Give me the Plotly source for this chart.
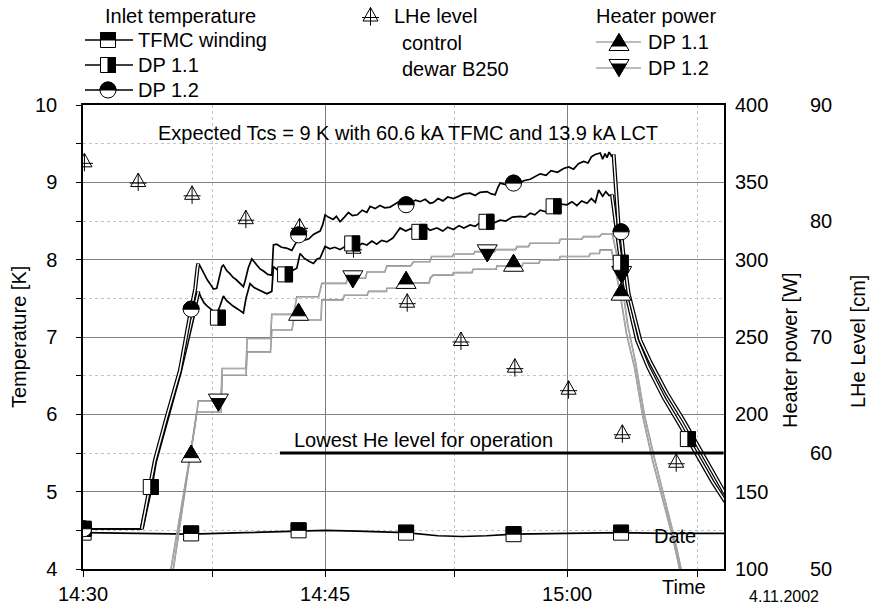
import math
import plotly.graph_objects as go

# ---------------- data (time = minutes after 14:30) ----------------
t_dp12 = [0, 3.64, 4.0, 4.46, 5.19, 6.01, 6.70, 6.95, 7.10, 7.15,
          7.3, 7.45, 7.56, 7.7, 7.87, 8.08, 8.29, 8.45, 8.6, 8.70,
          8.9, 9.1, 9.3, 9.5, 9.7, 9.94, 10.04, 10.25, 10.46, 10.7,
          10.97, 11.2, 11.45, 11.70, 11.80, 12.0, 12.3, 12.6, 12.94, 13.2,
          13.45, 13.7, 14.0, 14.3, 14.69, 14.85, 15.0, 15.2, 15.5, 15.7,
          15.93, 16.2, 16.45, 16.7, 17.0, 17.3, 17.59, 17.79, 18.1, 18.4,
          18.7, 19.03, 19.3, 19.65, 20.01, 20.3, 20.6, 20.89, 21.2, 21.5,
          21.72, 22.0, 22.3, 22.6, 22.96, 23.3, 23.6, 23.99, 24.3, 24.6,
          25.03, 25.3, 25.54, 25.7, 25.85, 26.2, 26.68, 27.0, 27.3, 27.71,
          28.0, 28.33, 28.7, 29.0, 29.4, 29.78, 30.1, 30.4, 30.7, 31.02,
          31.3, 31.5, 31.74, 32.05, 32.2, 32.35, 32.47, 32.6, 32.75, 32.88,
          33.19, 33.34, 33.50, 33.81, 34.53, 35.15, 36.19, 37.22, 38.25, 39.08, 39.8]
temp_dp12 = [4.52, 4.52, 4.90, 5.41, 5.97, 6.57, 7.36, 7.62, 7.90, 7.95,
             7.90, 7.84, 7.78, 7.74, 7.69, 7.62, 7.63, 7.80, 7.91, 7.93,
             7.86, 7.82, 7.77, 7.74, 7.70, 7.65, 7.72, 7.90, 8.01, 7.95,
             7.88, 7.85, 7.81, 7.80, 8.19, 8.20, 8.16, 8.15, 8.12, 8.22,
             8.30, 8.25, 8.27, 8.33, 8.37, 8.45, 8.58, 8.55, 8.52, 8.56,
             8.49, 8.55, 8.61, 8.57, 8.58, 8.64, 8.61, 8.69, 8.66, 8.70,
             8.67, 8.68, 8.72, 8.76, 8.71, 8.73, 8.77, 8.75, 8.78, 8.73,
             8.74, 8.79, 8.76, 8.81, 8.79, 8.82, 8.85, 8.86, 8.83, 8.87,
             8.88, 8.85, 8.84, 8.93, 8.99, 8.97, 9.00, 8.98, 9.02, 9.04,
             9.07, 9.11, 9.09, 9.15, 9.13, 9.18, 9.20, 9.17, 9.24, 9.27,
             9.25, 9.33, 9.36, 9.38, 9.30, 9.37, 9.32, 9.39, 9.34, 9.36,
             8.43, 8.36, 8.04, 7.56, 6.96, 6.68, 6.27, 5.92, 5.54, 5.24, 4.97]

t_dp11 = [0, 3.64, 4.20, 4.46, 5.19, 6.01, 6.74, 7.0, 7.15, 7.3,
          7.5, 7.7, 7.87, 8.08, 8.29, 8.49, 8.70, 8.9, 9.1, 9.3,
          9.6, 9.94, 10.1, 10.35, 10.6, 10.9, 11.2, 11.39, 11.70, 11.80,
          12.1, 12.52, 12.9, 13.25, 13.45, 13.7, 14.0, 14.28, 14.5, 14.69,
          15.0, 15.3, 15.6, 15.93, 16.3, 16.70, 17.0, 17.3, 17.59, 17.9,
          18.2, 18.5, 18.83, 19.2, 19.45, 19.65, 20.0, 20.3, 20.6, 20.89,
          21.2, 21.5, 21.93, 22.3, 22.6, 22.96, 23.3, 23.6, 23.99, 24.3,
          24.6, 25.03, 25.4, 25.85, 26.2, 26.6, 27.09, 27.4, 27.71, 28.0,
          28.33, 28.7, 29.16, 29.5, 29.99, 30.3, 30.6, 30.9, 31.23, 31.5,
          31.75, 31.95, 32.05, 32.2, 32.4, 32.6, 32.78,
          33.0, 33.34, 33.71, 34.33, 35.0, 36.0, 37.0, 37.46, 38.0, 39.0, 39.8]
temp_dp11 = [4.52, 4.52, 5.06, 5.38, 5.95, 6.55, 7.20, 7.45, 7.59, 7.52,
             7.44, 7.40, 7.37, 7.33, 7.30, 7.40, 7.53, 7.47, 7.43, 7.40,
             7.36, 7.31, 7.50, 7.69, 7.64, 7.61, 7.58, 7.56, 7.59, 7.91,
             7.86, 7.81, 7.85, 7.89, 8.08, 8.02, 7.98, 7.95, 8.01, 8.02,
             8.17, 8.14, 8.16, 8.13, 8.18, 8.21, 8.17, 8.21, 8.19, 8.24,
             8.20, 8.25, 8.23, 8.28, 8.35, 8.41, 8.37, 8.40, 8.36, 8.39,
             8.43, 8.38, 8.41, 8.37, 8.42, 8.39, 8.44, 8.41, 8.45, 8.43,
             8.48, 8.49, 8.47, 8.51, 8.50, 8.55, 8.56, 8.55, 8.60, 8.58,
             8.64, 8.62, 8.69, 8.72, 8.71, 8.75, 8.70, 8.76, 8.73, 8.79,
             8.74, 8.90, 8.86, 8.82, 8.88, 8.83, 8.84,
             8.50, 7.96, 7.52, 6.96, 6.62, 6.21, 5.86, 5.69, 5.49, 5.13, 4.87]

t_tfmc = [0, 3.0, 6.7, 10.0, 13.35, 15.0, 17.0, 20.0, 22.0, 23.5, 25.0, 26.7, 30.0, 33.3, 36.0, 39.8]
temp_tfmc = [4.47, 4.46, 4.45, 4.47, 4.49, 4.50, 4.49, 4.47, 4.43, 4.42, 4.43, 4.45, 4.46, 4.47, 4.46, 4.46]

t_pow12 = [0, 3.9, 5.45, 6.3, 6.9, 7.15, 8.55, 8.62, 10.1, 10.17,
           11.62, 11.70, 13.05, 13.25, 14.6, 14.8, 16.3, 16.4, 17.5, 17.6,
           18.7, 18.83, 20.3, 20.48, 21.5, 21.6, 22.9, 22.96, 24.2, 24.3,
           25.5, 25.6, 26.8, 26.89, 27.6, 27.71, 29.5, 29.57, 30.9, 31.02,
           32.0, 32.16, 32.80, 33.30, 33.75, 34.25, 34.78, 35.40, 36.02, 36.65,
           37.06, 37.8, 38.5, 39.8]
pow_dp12 = [0, 0, 100, 152, 190, 208.7, 208.7, 229.6, 229.6, 249.1,
            249.1, 264.6, 264.6, 276, 276, 284.7, 284.7, 288, 288, 292,
            292, 296, 296, 298.7, 298.7, 302, 302, 303.7, 303.7, 305.2,
            305.2, 306.5, 306.5, 308.4, 308.4, 310.6, 310.6, 313.2, 313.2, 314.9,
            314.9, 316.6, 316.6, 292, 258, 233, 200, 172, 146, 120,
            100, 55, 15, 0]

t_pow11 = [0, 4.0, 5.6, 6.70, 7.05, 8.55, 8.62, 10.1, 10.17, 11.62,
           11.70, 12.95, 13.05, 14.75, 14.8, 16.1, 16.2, 17.6, 17.7, 18.8,
           18.83, 20.1, 20.2, 21.45, 21.51, 21.7, 22.9, 22.96, 24.1, 24.18,
           25.6, 25.65, 27.2, 27.28, 28.25, 28.33, 29.5, 29.57, 31.35, 31.43,
           32.0, 32.05, 32.75, 33.25, 33.68, 34.18, 34.70, 35.30, 35.93, 36.55,
           36.97, 37.7, 38.4, 39.8]
pow_dp11 = [0, 0, 100, 174.6, 201.5, 201.5, 225.3, 225.3, 240.4, 240.4,
            254.5, 254.5, 261, 261, 274, 274, 277, 277, 279.5, 279.5,
            281.5, 281.5, 285, 285, 288, 290, 290, 291.6, 291.6, 293.8,
            293.8, 295.9, 295.9, 297.7, 297.7, 299.8, 299.8, 302, 302, 304,
            304, 306.3, 306.3, 280, 252, 230, 198, 170, 145, 120,
            100, 55, 15, 0]

# marker samples
t_mk_tfmc = [0.04, 6.70, 13.36, 20.02, 26.68, 33.34]
v_mk_tfmc = [4.47, 4.46, 4.50, 4.47, 4.45, 4.47]
t_mk_dp12 = [0.04, 6.70, 13.36, 20.02, 26.68, 33.34]
v_mk_dp12 = [4.52, 7.36, 8.32, 8.71, 8.99, 8.36]
t_mk_dp11 = [0.04, 4.20, 8.36, 12.52, 16.68, 20.84, 25.00, 29.16, 33.32, 37.48]
v_mk_dp11 = [4.52, 5.06, 7.25, 7.81, 8.21, 8.36, 8.49, 8.69, 7.96, 5.68]
t_mk_pow11 = [6.70, 13.36, 20.02, 26.68, 33.34]
v_mk_pow11 = [174.6, 266.3, 286.9, 298.0, 279.3]
t_mk_pow12 = [8.39, 16.72, 25.05, 33.38]
v_mk_pow12 = [207.6, 287.3, 304.1, 290.1]
t_lhe = [0.09, 3.42, 6.76, 10.09, 13.42, 16.76, 20.09, 23.42, 26.76, 30.09, 33.42, 36.76]
lhe_level = [85.1, 83.4, 82.3, 80.2, 79.5, 77.65, 73.0, 69.7, 67.4, 65.5, 61.7, 59.2]

t_lowest = [12.2, 39.7]
lowest_level = [60, 60]

x_tickvals = [0, 15, 30]
x_ticktext = ["14:30", "14:45", "15:00"]
x_minor_ticks = [8.0, 23.0, 38.1]

# ---------------- layout geometry ----------------
W, H = 871, 609
ML, MR, MT, MB = 83, 5, 105, 40
PW = W - ML - MR
PH = H - MT - MB
X_END = (724 - ML) / PW
FONT = "Liberation Sans, Arial, sans-serif"


def pxx(x):
    return (x - ML) / PW


def pxy(y):
    return (H - MB - y) / PH


fig = go.Figure()

# temperature lines (single black)
for tt, vv in [(t_tfmc, temp_tfmc), (t_dp11, temp_dp11), (t_dp12, temp_dp12)]:
    fig.add_trace(go.Scatter(x=tt, y=vv, mode="lines", yaxis="y",
                             line=dict(color="black", width=1.7), hoverinfo="skip"))


def seg(tt, vv, a, b):
    idx = [i for i, t in enumerate(tt) if a <= t <= b]
    return [tt[i] for i in idx], [vv[i] for i in idx]


# double lines for ramps
for tt, vv, drop_start in [(t_dp11, temp_dp11, 32.78), (t_dp12, temp_dp12, 32.88)]:
    for a, b in [(3.64, 7.15), (drop_start, 40)]:
        sx, sy = seg(tt, vv, a, b)
        fig.add_trace(go.Scatter(x=sx, y=sy, mode="lines", yaxis="y",
                                 line=dict(color="black", width=4.0), hoverinfo="skip"))
        fig.add_trace(go.Scatter(x=sx, y=sy, mode="lines", yaxis="y",
                                 line=dict(color="white", width=1.5), hoverinfo="skip"))

# heater power (thin grey double lines)
for tt, vv in [(t_pow11, pow_dp11), (t_pow12, pow_dp12)]:
    fig.add_trace(go.Scatter(x=tt, y=vv, mode="lines", yaxis="y2",
                             line=dict(color="#7a7a7a", width=1.6), hoverinfo="skip"))
    fig.add_trace(go.Scatter(x=tt, y=vv, mode="lines", yaxis="y2",
                             line=dict(color="white", width=0.4), hoverinfo="skip"))

# lowest He level line
fig.add_trace(go.Scatter(x=t_lowest, y=lowest_level, mode="lines", yaxis="y3",
                         line=dict(color="black", width=3), hoverinfo="skip"))

# ---------------- marker shapes ----------------
shapes = []


def rect(xr, yr, xa, ya, x0, x1, y0, y1, fill):
    return dict(type="rect", xref=xr, yref=yr, xsizemode="pixel", ysizemode="pixel",
                xanchor=xa, yanchor=ya, x0=x0, x1=x1, y0=y0, y1=y1,
                fillcolor=fill, line=dict(color="black", width=1), layer="above")


def path(xr, yr, xa, ya, subpaths, fill, lw=1):
    d = ""
    for pts, close in subpaths:
        d += "M " + " L ".join(f"{p[0]:.2f},{p[1]:.2f}" for p in pts) + (" Z " if close else " ")
    return dict(type="path", xref=xr, yref=yr, xsizemode="pixel", ysizemode="pixel",
                xanchor=xa, yanchor=ya, path=d.strip(), fillcolor=fill,
                line=dict(color="black", width=lw), layer="above")


S = 7.5
R = 8.0


def marker(kind, xr, yr, xa, ya):
    out = []
    if kind == "tfmc":
        out.append(rect(xr, yr, xa, ya, -S, S, -S, S, "white"))
        out.append(rect(xr, yr, xa, ya, -S, S, 0, S, "black"))
    elif kind == "dp11":
        out.append(rect(xr, yr, xa, ya, -S, S, -S, S, "white"))
        out.append(rect(xr, yr, xa, ya, 0, S, -S, S, "black"))
    elif kind == "dp12":
        out.append(dict(type="circle", xref=xr, yref=yr, xsizemode="pixel", ysizemode="pixel",
                        xanchor=xa, yanchor=ya, x0=-R, x1=R, y0=-R, y1=R,
                        fillcolor="white", line=dict(color="black", width=1), layer="above"))
        pts = [(R * math.cos(math.pi * k / 16), R * math.sin(math.pi * k / 16)) for k in range(17)]
        out.append(path(xr, yr, xa, ya, [(pts, True)], "black"))
    elif kind == "up":
        out.append(path(xr, yr, xa, ya, [([(-10, -8.5), (10, -8.5), (0, 8.5)], True)], "white"))
        out.append(path(xr, yr, xa, ya, [([(-7.35, -4), (7.35, -4), (0, 8.5)], True)], "black"))
    elif kind == "down":
        out.append(path(xr, yr, xa, ya, [([(-10, 8.5), (10, 8.5), (0, -8.5)], True)], "white"))
        out.append(path(xr, yr, xa, ya, [([(-7.35, 4), (7.35, 4), (0, -8.5)], True)], "black"))
    elif kind == "lhe":
        out.append(path(xr, yr, xa, ya, [
            ([(-7.5, -5), (7.5, -5), (0, 8.5)], True),
            ([(-8.5, -1.5), (8.5, -1.5)], False),
            ([(0, 8.5), (0, -9.5)], False)], "rgba(0,0,0,0)"))
    return out


for t, v in zip(t_lhe, lhe_level):
    shapes += marker("lhe", "x", "y3", t, v)
for t, v in zip(t_mk_pow11, v_mk_pow11):
    shapes += marker("up", "x", "y2", t, v)
for t, v in zip(t_mk_pow12, v_mk_pow12):
    shapes += marker("down", "x", "y2", t, v)
for t, v in zip(t_mk_tfmc, v_mk_tfmc):
    shapes += marker("tfmc", "x", "y", t, v)
for t, v in zip(t_mk_dp11, v_mk_dp11):
    shapes += marker("dp11", "x", "y", t, v)
for t, v in zip(t_mk_dp12, v_mk_dp12):
    shapes += marker("dp12", "x", "y", t, v)

# ---------------- legend (drawn) ----------------
ann = []


def text(x, y, s, xanchor="center", size=20, angle=0):
    ann.append(dict(x=pxx(x), y=pxy(y), xref="paper", yref="paper", text=s, showarrow=False,
                    xanchor=xanchor, yanchor="middle", textangle=angle,
                    font=dict(size=size, family=FONT, color="black")))


def legline(x0, x1, y, color, width):
    shapes.append(dict(type="line", xref="paper", yref="paper", x0=pxx(x0), x1=pxx(x1),
                       y0=pxy(y), y1=pxy(y), line=dict(color=color, width=width), layer="above"))


text(180, 16, "Inlet temperature")
for y, kind, label in [(40, "tfmc", "TFMC winding"), (65, "dp11", "DP 1.1"), (90, "dp12", "DP 1.2")]:
    legline(85, 133, y, "black", 1.5)
    shapes += marker(kind, "paper", "paper", pxx(108), pxy(y))
    text(136, y, label, xanchor="left")

shapes += marker("lhe", "paper", "paper", pxx(370.5), pxy(16))
text(392, 16, "LHe level", xanchor="left")
text(400, 43, "control", xanchor="left")
text(400, 69, "dewar B250", xanchor="left")

text(594, 16, "Heater power", xanchor="left")
for y, kind, label in [(42, "up", "DP 1.1"), (68, "down", "DP 1.2")]:
    legline(596, 641, y, "#7a7a7a", 1)
    shapes += marker(kind, "paper", "paper", pxx(619), pxy(y))
    text(646, y, label, xanchor="left")

# plot annotations
text(408, 133, "Expected Tcs = 9 K with 60.6 kA TFMC and 13.9 kA LCT")
text(423, 440, "Lowest He level for operation")
text(675, 536, "Date")
text(684, 587, "Time")
text(784, 596, "4.11.2002", size=16)
text(19, 337, "Temperature [K]", angle=-90)
text(790, 350, "Heater power [W]", angle=-90)
text(858, 342, "LHe Level [cm]", angle=-90)

axis_font = dict(family=FONT, size=20, color="black")
fig.update_layout(
    width=W, height=H,
    margin=dict(l=ML, r=MR, t=MT, b=MB, pad=0),
    paper_bgcolor="white", plot_bgcolor="white",
    showlegend=False,
    font=dict(family=FONT, size=20, color="black"),
    shapes=shapes, annotations=ann,
    xaxis=dict(domain=[0, X_END], range=[0, 39.72], tickmode="array",
               tickvals=x_tickvals, ticktext=x_ticktext, ticks="outside", ticklen=6,
               tickcolor="black", showline=True, linecolor="black", linewidth=1.5,
               mirror=True, showgrid=True, gridcolor="#808080", gridwidth=1,
               zeroline=False, tickfont=axis_font,
               minor=dict(tickmode="array", tickvals=x_minor_ticks, ticks="outside",
                          ticklen=6, tickcolor="black", showgrid=True,
                          gridcolor="#c4c4c4", griddash="dot", gridwidth=1)),
    yaxis=dict(range=[4, 10], tick0=4, dtick=1, ticks="outside", ticklen=5,
               tickcolor="black", showline=True, linecolor="black", linewidth=1.5,
               mirror=True, showgrid=True, gridcolor="#808080", gridwidth=1,
               zeroline=False, tickfont=axis_font, ticklabelstandoff=15,
               minor=dict(dtick=0.5, tick0=4, ticks="outside", ticklen=5, tickcolor="black",
                          showgrid=True, gridcolor="#c4c4c4", griddash="dot", gridwidth=1)),
    yaxis2=dict(overlaying="y", side="right", anchor="x", range=[100, 400], dtick=50,
                tick0=100, showgrid=False, zeroline=False, showline=False, ticks="",
                tickfont=axis_font, ticklabelstandoff=10),
    yaxis3=dict(overlaying="y", side="right", anchor="free", position=pxx(809),
                range=[50, 90], dtick=10, tick0=50, showgrid=False, zeroline=False,
                showline=False, ticks="", tickfont=axis_font),
)

fig.write_html("out.html", config={"displayModeBar": False},
               post_script="document.body.style.margin='0';")
